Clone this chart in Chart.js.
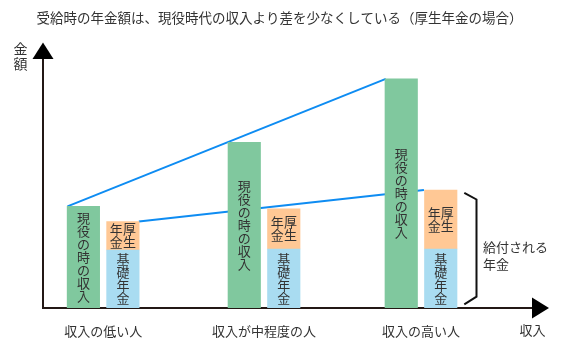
<!DOCTYPE html>
<html lang="ja">
<head>
<meta charset="utf-8">
<script src="https://cdn.jsdelivr.net/npm/chart.js@4.4.1/dist/chart.umd.min.js"></script>
<style>
  html, body { margin: 0; padding: 0; background: #fff; }
</style>
</head>
<body>
<canvas id="chart" width="575" height="346"></canvas>
<script>
// 収入の区分（x は収入の目安、0〜100）
const groups = ["収入の低い人", "収入が中程度の人", "収入の高い人"];
const incomeLevels = [12.3, 45.2, 77.3];

// 金額（縦軸 0〜100）
const activeIncome = [40.8, 66.5, 92.0];     // 現役の時の収入
const basicPension = [23.3, 23.7, 23.7];     // 基礎年金
const employeePension = [11.4, 16.1, 23.7];  // 厚生年金

// 差を示す二本の線（始点と終点）
const incomeLineX = [5.0, 70.1];
const incomeLineY = [40.8, 92.0];
const pensionLineX = [19.6, 77.9];
const pensionLineY = [34.7, 47.4];

const titleText = "受給時の年金額は、現役時代の収入より差を少なくしている（厚生年金の場合）";
const activeLabel = "現役の時の収入";
const basicLabel = "基礎年金";
const employeeColumns = ["厚生", "年金"]; // 右の列から
const bracketLines = ["給付される", "年金"];

const fontFamily = "'Noto Sans CJK JP', 'Noto Sans', sans-serif";
const textColor = "#333333";
const axisColor = "#231815";

function points(xs, ys) {
  return xs.map((x, i) => ({ x: x, y: ys[i] }));
}

function drawColumn(ctx, text, x, cy, step) {
  const chars = Array.from(text);
  chars.forEach((c, i) => {
    ctx.fillText(c, x, cy + (i - (chars.length - 1) / 2) * step);
  });
}

const decorations = {
  id: "decorations",
  afterDatasetsDraw(chart) {
    const ctx = chart.ctx;
    const area = chart.chartArea;
    const green = chart.getDatasetMeta(0).data;
    const blue = chart.getDatasetMeta(1).data;
    const orange = chart.getDatasetMeta(2).data;

    ctx.save();
    ctx.fillStyle = textColor;
    ctx.font = "13px " + fontFamily;
    ctx.textAlign = "center";
    ctx.textBaseline = "middle";

    green.forEach(el => drawColumn(ctx, activeLabel, el.x, (el.y + el.base) / 2, 13));
    blue.forEach(el => drawColumn(ctx, basicLabel, el.x, (el.y + el.base) / 2, 13));
    orange.forEach(el => {
      const cy = (el.y + el.base) / 2;
      drawColumn(ctx, employeeColumns[0], el.x + 6.6, cy, 13);
      drawColumn(ctx, employeeColumns[1], el.x - 6.6, cy, 13);
    });

    // 給付される年金 の括弧
    const top = orange[orange.length - 1];
    const bottom = blue[blue.length - 1];
    const right = top.x + top.width / 2;
    ctx.strokeStyle = "#111";
    ctx.lineWidth = 2;
    ctx.beginPath();
    ctx.moveTo(right + 7.3, top.y + 2.8);
    ctx.lineTo(right + 19.5, top.y + 9.5);
    ctx.lineTo(right + 19.5, bottom.base - 11.3);
    ctx.lineTo(right + 7.3, bottom.base - 3.7);
    ctx.stroke();

    ctx.textAlign = "left";
    const mid = (top.y + bottom.base) / 2;
    ctx.fillText(bracketLines[0], right + 26, mid - 1.5);
    ctx.fillText(bracketLines[1], right + 26, mid + 15);

    // 軸の矢印
    ctx.fillStyle = "#000";
    ctx.beginPath();
    ctx.moveTo(area.left - 10.5, area.top);
    ctx.lineTo(area.left + 10.5, area.top);
    ctx.lineTo(area.left, area.top - 16.5);
    ctx.closePath();
    ctx.fill();
    ctx.beginPath();
    ctx.moveTo(area.right, area.bottom - 10.5);
    ctx.lineTo(area.right, area.bottom + 10.5);
    ctx.lineTo(area.right + 17, area.bottom);
    ctx.closePath();
    ctx.fill();

    // 軸ラベル
    ctx.fillStyle = textColor;
    ctx.textAlign = "center";
    ctx.font = "14px " + fontFamily;
    drawColumn(ctx, "金額", area.left - 22.5, area.top - 2.5, 15);
    ctx.font = "13px " + fontFamily;
    ctx.fillText("収入", area.right + 0.5, area.bottom + 22.5);
    ctx.restore();
  }
};

new Chart(document.getElementById("chart"), {
  type: "bar",
  data: {
    datasets: [
      {
        label: "現役の時の収入",
        data: points(incomeLevels, activeIncome),
        backgroundColor: "#80c89e",
        stack: "income",
        order: 1
      },
      {
        label: "基礎年金",
        data: points(incomeLevels, basicPension),
        backgroundColor: "#a9dcf1",
        stack: "pension",
        order: 1
      },
      {
        label: "厚生年金",
        data: points(incomeLevels, employeePension),
        backgroundColor: "#ffc895",
        stack: "pension",
        order: 1
      },
      {
        type: "line",
        label: "収入の差",
        data: points(incomeLineX, incomeLineY),
        borderColor: "#0e8cf2",
        borderWidth: 2,
        pointRadius: 0,
        fill: false,
        stack: "line1",
        order: 2
      },
      {
        type: "line",
        label: "年金の差",
        data: points(pensionLineX, pensionLineY),
        borderColor: "#0e8cf2",
        borderWidth: 2,
        pointRadius: 0,
        fill: false,
        stack: "line2",
        order: 2
      }
    ]
  },
  options: {
    responsive: false,
    animation: false,
    layout: { padding: { left: 27, right: 43, top: 0, bottom: 0 } },
    datasets: {
      bar: { barThickness: 39.5, maxBarThickness: 32.5, borderWidth: 0 }
    },
    plugins: {
      legend: { display: false },
      tooltip: { enabled: false },
      title: {
        display: true,
        text: titleText,
        color: textColor,
        font: { family: fontFamily, size: 13.5, weight: "normal", lineHeight: 1.2 },
        padding: { top: 10, bottom: 32.8 }
      }
    },
    scales: {
      x: {
        type: "linear",
        min: 0,
        max: 100,
        offset: false,
        grid: { display: false, drawTicks: false, offset: false },
        border: { display: true, color: axisColor, width: 2 },
        afterBuildTicks: s => { s.ticks = incomeLevels.map(v => ({ value: v })); },
        afterFit: s => { s.height = 38; },
        ticks: {
          autoSkip: false,
          maxRotation: 0,
          padding: 15.5,
          color: textColor,
          font: { family: fontFamily, size: 13 },
          callback: (value, index) => groups[index]
        }
      },
      y: {
        stacked: true,
        min: 0,
        max: 100,
        grid: { display: false, drawTicks: false },
        border: { display: true, color: axisColor, width: 2 },
        ticks: { display: false },
        afterFit: s => { s.width = 16; }
      }
    }
  },
  plugins: [decorations]
});
</script>
</body>
</html>
